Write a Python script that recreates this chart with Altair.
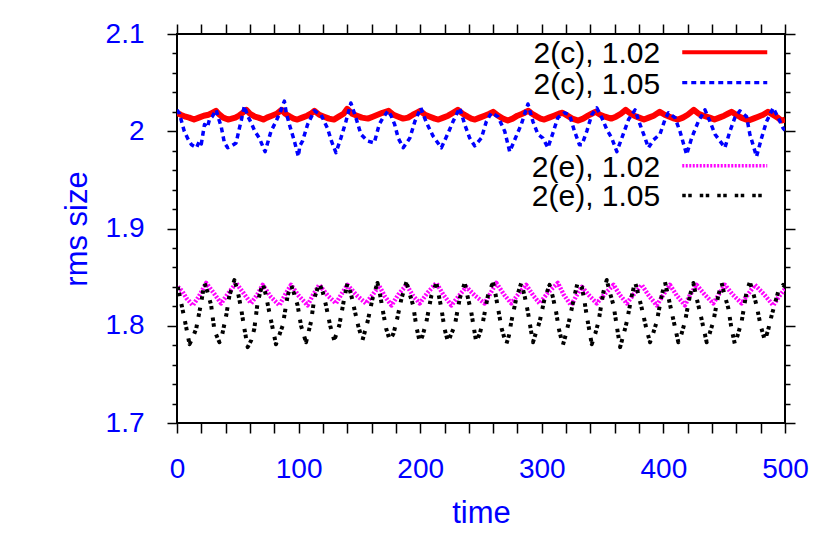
import altair as alt
import pandas as pd

# ---------------- data ----------------
red_t = [0, 3, 7, 10, 14, 18, 22, 26, 29, 32, 35, 38, 42, 45, 48, 51, 54, 57, 60, 64,
         67, 71, 74, 78, 82, 86, 89, 93, 96, 99, 103, 107, 110, 113, 117, 121, 125, 129, 133, 137,
         140, 144, 148, 152, 157, 161, 165, 169, 174, 178, 182, 186, 190, 194, 197, 200, 204, 208, 212, 215,
         219, 223, 227, 231, 235, 239, 242, 245, 249, 253, 257, 260, 264, 268, 272, 276, 280, 284, 289, 292,
         296, 299, 302, 306, 310, 314, 317, 321, 325, 330, 334, 338, 341, 344, 348, 352, 357, 361, 365, 369,
         372, 376, 380, 384, 388, 392, 397, 401, 405, 409, 412, 416, 420, 425, 429, 433, 438, 442, 446, 450,
         453, 456, 460, 464, 470, 474, 478, 482, 486, 490, 494, 497, 500]
red_y = [2.019, 2.017, 2.015, 2.014, 2.012, 2.014, 2.016, 2.017, 2.019, 2.021, 2.017, 2.014, 2.012, 2.013, 2.014, 2.016, 2.019, 2.022, 2.018, 2.015,
         2.014, 2.012, 2.014, 2.016, 2.018, 2.022, 2.018, 2.015, 2.013, 2.012, 2.014, 2.016, 2.018, 2.021, 2.017, 2.015, 2.013, 2.012, 2.015, 2.018,
         2.023, 2.018, 2.016, 2.014, 2.013, 2.015, 2.017, 2.019, 2.021, 2.017, 2.015, 2.013, 2.014, 2.017, 2.019, 2.021, 2.017, 2.015, 2.013, 2.012,
         2.014, 2.016, 2.019, 2.022, 2.018, 2.015, 2.013, 2.012, 2.014, 2.016, 2.018, 2.020, 2.016, 2.013, 2.011, 2.013, 2.016, 2.018, 2.021, 2.018,
         2.015, 2.013, 2.012, 2.014, 2.016, 2.018, 2.019, 2.016, 2.013, 2.011, 2.013, 2.016, 2.018, 2.020, 2.017, 2.015, 2.013, 2.015, 2.018, 2.022,
         2.019, 2.016, 2.014, 2.012, 2.014, 2.016, 2.020, 2.017, 2.015, 2.013, 2.012, 2.014, 2.017, 2.022, 2.018, 2.016, 2.014, 2.012, 2.014, 2.016,
         2.018, 2.020, 2.017, 2.014, 2.011, 2.013, 2.015, 2.017, 2.020, 2.017, 2.014, 2.011, 2.012]

blue_t = [0, 2, 6, 9, 12, 16, 18.5, 20, 22.6, 25, 26.7, 29, 32.2, 34, 36.3, 39, 41.7, 45, 48.6, 51.3,
          53, 55.4, 58, 60.9, 64, 67.7, 72.4, 75, 77.3, 81.4, 85, 88.3, 90, 92.4, 96.5, 99.8, 101, 103.3, 107.4, 112.9,
          118.4, 123.8, 127, 130.7, 134.8, 138.9, 143, 147.1, 151.2, 156.7, 162.2, 166.3, 169, 173.6, 176, 179, 181.9, 186, 191.5, 195.6,
          200.5, 205.1, 210.6, 217.4, 222.9, 227, 232.5, 236.6, 240.7, 244.8, 250.3, 254.4, 258.5, 264, 269.5, 273.6, 279, 283.1, 288.6, 292.7,
          296.8, 300.9, 305, 309.1, 313.2, 318.7, 322.8, 326.9, 331, 333, 337, 341.1, 345.2, 349.3, 353.4, 357.5, 361.7, 365.8, 371.3, 376.7,
          380.8, 384.9, 387.7, 391.8, 397.2, 401.3, 404.1, 409.5, 413.6, 419.1, 423.2, 428.7, 434.2, 438.3, 442.4, 446.5, 450.6, 454.7, 458.8, 462.9,
          468.4, 471.1, 476.6, 480.7, 484.8, 490.3, 494.4, 498.5, 500]
blue_y = [2.022, 2.018, 2.000, 1.992, 1.986, 1.983, 1.990, 1.987, 2.007, 2.004, 2.012, 2.015, 2.022, 2.014, 2.005, 1.988, 1.983, 1.985, 1.988, 2.003,
          2.012, 2.026, 2.016, 2.009, 2.000, 1.993, 1.979, 1.990, 2.000, 2.010, 2.020, 2.031, 2.018, 2.007, 1.990, 1.974, 1.985, 1.990, 2.007, 2.021,
          2.017, 2.003, 1.990, 1.978, 1.993, 2.010, 2.029, 2.014, 1.997, 1.990, 1.988, 2.007, 2.013, 2.021, 2.016, 2.007, 1.993, 1.983, 1.993, 2.010,
          2.024, 2.009, 1.995, 1.983, 1.998, 2.010, 2.024, 2.007, 1.993, 1.985, 1.993, 2.010, 2.019, 2.015, 2.000, 1.979, 1.995, 2.007, 2.028, 2.010,
          1.997, 1.993, 1.983, 1.998, 2.014, 2.019, 2.017, 2.000, 1.986, 1.986, 2.000, 2.017, 2.024, 2.014, 2.002, 1.993, 1.979, 1.993, 2.012, 2.022,
          2.007, 1.993, 1.983, 1.991, 1.997, 2.012, 2.019, 2.014, 2.000, 1.976, 1.993, 2.010, 2.022, 2.010, 1.997, 1.990, 1.983, 2.000, 2.014, 2.021,
          2.015, 1.997, 1.974, 1.993, 2.010, 2.024, 2.014, 2.003, 2.001]

magenta_t = [0.7, 4, 8, 13, 18, 24, 30, 36.3, 42, 48.6, 55, 60.9, 66, 70.5, 77, 84.2, 89, 93.8, 100, 107.4,
             112, 117, 124, 130.7, 135, 140.2, 148, 155.3, 161, 166.3, 171, 176.4, 182, 188.7, 194, 199.7, 206, 213.3, 219, 225.6,
             232, 237.9, 245, 253, 258, 262.6, 269, 274.9, 281, 287.2, 293, 298.2, 305, 313.2, 318, 324.1, 329, 333, 339, 345.2,
             352, 359, 364, 369.9, 376, 382.2, 388, 394.5, 400, 405.4, 411, 417.7, 422, 427.3, 434, 441, 446, 450.6, 457, 464.3,
             470, 475.2, 483, 490.3, 495, 500]
magenta_y = [1.840, 1.836, 1.828, 1.821, 1.830, 1.844, 1.834, 1.823, 1.833, 1.844, 1.833, 1.823, 1.832, 1.842, 1.830, 1.821, 1.832, 1.842, 1.831, 1.821,
             1.832, 1.842, 1.831, 1.823, 1.832, 1.842, 1.831, 1.823, 1.832, 1.841, 1.830, 1.821, 1.832, 1.842, 1.831, 1.823, 1.834, 1.844, 1.832, 1.821,
             1.831, 1.840, 1.831, 1.823, 1.834, 1.844, 1.832, 1.823, 1.833, 1.842, 1.831, 1.823, 1.834, 1.844, 1.832, 1.821, 1.832, 1.840, 1.831, 1.823,
             1.833, 1.842, 1.832, 1.823, 1.833, 1.842, 1.831, 1.821, 1.832, 1.842, 1.831, 1.821, 1.832, 1.842, 1.832, 1.823, 1.833, 1.842, 1.832, 1.823,
             1.833, 1.842, 1.832, 1.821, 1.830, 1.838]

black_t = [0.7, 3, 6.2, 10.3, 13, 15.8, 19.9, 22.6, 25, 28.1, 30.8, 34.9, 37, 40.4, 43.1, 47.2, 50, 52.7, 55, 58.1,
           61, 63.6, 66.3, 70.5, 73, 75.9, 81.4, 84, 86.9, 91, 93.8, 96, 99.2, 102, 106.1, 110.2, 112.9, 117, 120, 122.5,
           126, 129.3, 133.4, 137.5, 140.2, 143, 145.7, 149, 152.5, 156.7, 160.8, 164.9, 167, 169.5, 172, 175, 178, 180.5, 184.6, 188.7,
           191, 194.2, 197, 199.7, 202, 205.1, 209.2, 213.3, 215, 217.4, 220, 222.9, 225, 228.4, 232.5, 236.6, 239, 242, 246.1, 249,
           251.6, 255.7, 259.9, 262, 264, 267, 270.8, 273, 274.9, 279, 283.1, 286, 288.6, 292.7, 295, 298.2, 302.3, 306.4, 309, 311.8,
           314, 317.3, 320, 322.8, 326.9, 329.6, 332.9, 335, 337, 341.1, 344, 346.6, 350.7, 353.4, 356, 359, 362, 364.4, 367, 369.9,
           374, 376.7, 379, 382.2, 386, 389, 391, 394.5, 398.6, 401.3, 404, 406.8, 412.3, 415, 417.7, 421.8, 424.6, 427, 430.1, 435.6,
           438, 441, 445.1, 447.9, 450, 453.4, 456, 458.8, 461, 464.3, 468.4, 471.1, 474, 476.6, 480, 483.4, 486, 488.9, 494.4, 498.5, 500]
black_y = [1.840, 1.826, 1.807, 1.781, 1.788, 1.797, 1.824, 1.844, 1.835, 1.821, 1.795, 1.783, 1.790, 1.810, 1.831, 1.847, 1.835, 1.818, 1.800, 1.778,
           1.785, 1.797, 1.824, 1.844, 1.832, 1.814, 1.781, 1.790, 1.800, 1.831, 1.842, 1.834, 1.821, 1.800, 1.783, 1.804, 1.828, 1.844, 1.834, 1.821,
           1.800, 1.785, 1.800, 1.828, 1.844, 1.833, 1.818, 1.800, 1.785, 1.804, 1.828, 1.844, 1.832, 1.814, 1.797, 1.785, 1.792, 1.804, 1.828, 1.845,
           1.834, 1.821, 1.798, 1.783, 1.790, 1.804, 1.831, 1.844, 1.833, 1.818, 1.797, 1.783, 1.790, 1.800, 1.828, 1.844, 1.830, 1.814, 1.783, 1.792,
           1.804, 1.831, 1.845, 1.832, 1.818, 1.797, 1.781, 1.790, 1.804, 1.828, 1.844, 1.830, 1.814, 1.783, 1.792, 1.804, 1.828, 1.842, 1.830, 1.814,
           1.797, 1.780, 1.792, 1.807, 1.831, 1.845, 1.840, 1.826, 1.810, 1.781, 1.792, 1.804, 1.835, 1.847, 1.834, 1.821, 1.797, 1.778, 1.790, 1.804,
           1.831, 1.845, 1.834, 1.818, 1.797, 1.783, 1.790, 1.804, 1.831, 1.845, 1.830, 1.814, 1.783, 1.792, 1.804, 1.831, 1.844, 1.830, 1.814, 1.783,
           1.792, 1.804, 1.831, 1.844, 1.833, 1.818, 1.797, 1.781, 1.790, 1.804, 1.835, 1.845, 1.833, 1.821, 1.800, 1.785, 1.795, 1.810, 1.835, 1.842, 1.840]

# axis tick values and legend content
x_tick_values = [0, 20, 40, 60, 80, 100, 120, 140, 160, 180, 200, 220, 240, 260, 280, 300,
                 320, 340, 360, 380, 400, 420, 440, 460, 480, 500]
y_tick_values = [1.7, 1.72, 1.74, 1.76, 1.78, 1.8, 1.82, 1.84, 1.86, 1.88, 1.9, 1.92, 1.94,
                 1.96, 1.98, 2.0, 2.02, 2.04, 2.06, 2.08, 2.1]
legend_labels = ["2(c), 1.02", "2(c), 1.05", "2(e), 1.02", "2(e), 1.05"]

# legend placement (in data coordinates)
legend_text_t = 397.4
legend_text_y = [2.0792, 2.0476, 1.9619, 1.9323]
legend_line_t = [415.5, 485.4]
legend_line_y = [2.0812, 2.0500, 1.9644, 1.9339]

# ---------------- chart ----------------
FONT = "Liberation Sans"
BLUE_TXT = "#0000ff"
xs = alt.Scale(domain=[0, 500], nice=False, zero=False)
ys = alt.Scale(domain=[1.7, 2.1], nice=False, zero=False)
major_test = "abs(datum.value*10 - round(datum.value*10)) < 0.001"

x_main_axis = alt.Axis(
    orient="bottom", values=x_tick_values,
    labelExpr="datum.value % 100 === 0 ? format(datum.value, 'd') : ''",
    tickSize=10, tickWidth=1.5, tickColor="black", domain=False, grid=False,
    labelFont=FONT, labelFontSize=28, labelColor=BLUE_TXT, labelPadding=22,
    labelFlush=False, labelOverlap=False,
    title="time", titleFont=FONT, titleFontSize=31, titleFontWeight="normal",
    titleColor=BLUE_TXT, titleX=304, titleY=99, titleAlign="center",
    titleBaseline="alphabetic",
)
y_main_axis = alt.Axis(
    orient="left", values=y_tick_values,
    labelExpr=major_test + " ? format(datum.value, '.1~f') : ''",
    tickSize={"condition": {"test": major_test, "value": 10}, "value": 5},
    tickWidth=1.5, tickColor="black", domain=False, grid=False,
    labelFont=FONT, labelFontSize=28, labelColor=BLUE_TXT, labelPadding=23,
    labelFlush=False, labelOverlap=False,
    title="rms size", titleFont=FONT, titleFontSize=31, titleFontWeight="normal",
    titleColor=BLUE_TXT, titleAngle=270, titleX=-91, titleY=194.5,
    titleAlign="center", titleBaseline="alphabetic",
)
x_top_axis = alt.Axis(
    orient="top", values=x_tick_values, labels=False, tickSize=10, tickWidth=1.5,
    tickColor="black", domain=False, grid=False, title=None,
)
y_right_axis = alt.Axis(
    orient="right", values=y_tick_values, labels=False,
    tickSize={"condition": {"test": major_test, "value": 10}, "value": 5},
    tickWidth=1.5, tickColor="black", domain=False, grid=False, title=None,
)

series = [
    (red_t, red_y, "#ff0000", 6, None, 4),
    (blue_t, blue_y, "#0000ff", 3.5, [5, 4], 3.2),
    (magenta_t, magenta_y, "#ff00ff", 4.5, [2, 1.5], 3.5),
    (black_t, black_y, "#000000", 4, [3.5, 2.5, 3.5, 8], 3.5),
]

layers = []
for i, (ts, vs, col, sw, dash, lsw) in enumerate(series):
    df = pd.DataFrame({"t": ts, "y": vs})
    mk = dict(color=col, strokeWidth=sw, clip=True, strokeJoin="round")
    if dash:
        mk["strokeDash"] = dash
    if i == 0:
        xa, ya = x_main_axis, y_main_axis
    else:
        xa, ya = None, None
    line = alt.Chart(df).mark_line(**mk).encode(
        x=alt.X("t:Q", scale=xs, axis=xa),
        y=alt.Y("y:Q", scale=ys, axis=ya),
    )
    layers.append(line)
    leg = pd.DataFrame({"t1": [legend_line_t[0]], "t2": [legend_line_t[1]],
                        "y": [legend_line_y[i]]})
    rk = dict(color=col, strokeWidth=lsw)
    if dash:
        rk["strokeDash"] = dash
    rule = alt.Chart(leg).mark_rule(**rk).encode(
        x=alt.X("t1:Q", scale=xs, axis=None),
        x2="t2:Q",
        y=alt.Y("y:Q", scale=ys, axis=None),
    )
    layers.append(rule)

legend_df = pd.DataFrame({"label": legend_labels,
                          "t": [legend_text_t] * 4,
                          "y": legend_text_y})
texts = alt.Chart(legend_df).mark_text(
    align="right", baseline="middle", font=FONT, fontSize=30, color="black"
).encode(
    x=alt.X("t:Q", scale=xs, axis=x_top_axis),
    y=alt.Y("y:Q", scale=ys, axis=y_right_axis),
    text="label:N",
)
layers.append(texts)

chart = alt.layer(*layers).resolve_axis(x="independent", y="independent").properties(
    width=608, height=389,
    autosize=alt.AutoSizeParams(type="none"),
    padding={"left": 169, "top": 26, "right": 30, "bottom": 106},
    background="white",
).configure_view(stroke="black", strokeWidth=2)

chart.save("out.html", embed_options={"renderer": "svg", "actions": False})
